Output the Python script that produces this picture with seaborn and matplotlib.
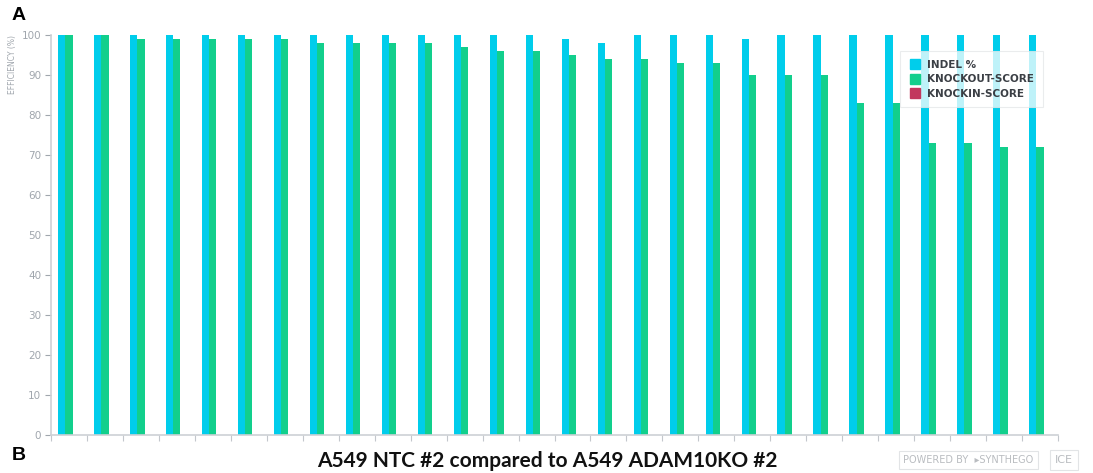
import numpy as np
import pandas as pd
import matplotlib
matplotlib.use("Agg")
import matplotlib.pyplot as plt
import seaborn as sns
from matplotlib.lines import Line2D

samples = [f"S{i}" for i in range(1, 29)]
indel = [100, 100, 100, 100, 100, 100, 100, 100, 100, 100, 100, 100, 100, 100,
         99, 98, 100, 100, 100, 99, 100, 100, 100, 100, 100, 100, 100, 100]
knockout = [100, 100, 99, 99, 99, 99, 99, 98, 98, 98, 98, 97, 96, 96,
            95, 94, 94, 93, 93, 90, 90, 90, 83, 83, 73, 73, 72, 72]
knockin = [0] * 28

series = ["INDEL %", "KNOCKOUT-SCORE", "KNOCKIN-SCORE"]
colors = ["#00CDEB", "#12CF8C", "#C2385E"]

df = pd.DataFrame({
    "sample": samples * 3,
    "score": series[0:1] * 28 + series[1:2] * 28 + series[2:3] * 28,
    "value": indel + knockout + knockin,
})

sns.set_style("white")
fig = plt.figure(figsize=(10.93, 4.73), dpi=100)
ax = fig.add_axes([51 / 1093, 1 - 435 / 473, (1058 - 51) / 1093, 400 / 473])

sns.barplot(data=df, x="sample", y="value", hue="score", palette=colors,
            hue_order=series, width=0.6, saturation=1, dodge=True,
            gap=0, linewidth=0, legend=False, ax=ax)

ax.set_xlim(-0.5, len(samples) - 0.5)
ax.set_ylim(0, 100)
ax.set_yticks(np.arange(0, 101, 10))
ax.set_xticks(np.arange(-0.5, len(samples), 1))
ax.set_xticklabels([])
ax.set_xlabel("")
ax.set_ylabel("EFFICIENCY (%)", fontsize=5.5, color="#a0a6ad",
              labelpad=3, loc="top")
ax.tick_params(axis="y", labelsize=7.5, colors="#a0a6ad", length=4, width=0.8,
               left=True, pad=3)
ax.tick_params(axis="x", colors="#c3c7cc", length=4, width=0.8, bottom=True)
for s in ["top", "right"]:
    ax.spines[s].set_visible(False)
for s in ["left", "bottom"]:
    ax.spines[s].set_color("#cdd1d5")
    ax.spines[s].set_linewidth(1.2)

handles = [Line2D([0], [0], marker="s", linestyle="", markersize=6.5,
                  markerfacecolor=c, markeredgecolor=c) for c in colors]
leg = ax.legend(handles, series, loc="upper left",
                bbox_to_anchor=(895 / 1093, 1 - 46 / 473),
                bbox_transform=fig.transFigure, frameon=True, fontsize=7.5,
                handletextpad=0.6, labelspacing=0.45, borderpad=0.8,
                handlelength=1.2, fancybox=False, framealpha=0.75)
leg.get_frame().set_edgecolor("#e4e6e8")
leg.get_frame().set_linewidth(0.8)
for t in leg.get_texts():
    t.set_fontweight("bold")
    t.set_color("#3b3f45")

fig.text(12 / 1093, 1 - 16 / 473, "A", fontsize=14, fontweight="bold",
         va="center", ha="left", family="Liberation Sans", color="black")
fig.text(12 / 1093, 1 - 455 / 473, "B", fontsize=14, fontweight="bold",
         va="center", ha="left", family="Liberation Sans", color="black")
fig.text(547 / 1093, 1 - 461 / 473, "A549 NTC #2 compared to A549 ADAM10KO #2",
         fontsize=15, fontweight="bold", ha="center", va="center",
         family="Lato", color="#111111")

# watermark box at bottom right
fig.text(968 / 1093, 1 - 460 / 473, "POWERED BY  \u25b8SYNTHEGO", fontsize=7,
         color="#b9bcc0", ha="center", va="center", family="DejaVu Sans",
         bbox=dict(boxstyle="square,pad=0.45", fc="white", ec="#e2e4e6", lw=0.8))
fig.text(1064 / 1093, 1 - 460 / 473, "ICE", fontsize=8, color="#b9bcc0",
         ha="center", va="center", family="DejaVu Sans",
         bbox=dict(boxstyle="square,pad=0.45", fc="white", ec="#e2e4e6", lw=0.8))

fig.savefig("out.png", dpi=100)
